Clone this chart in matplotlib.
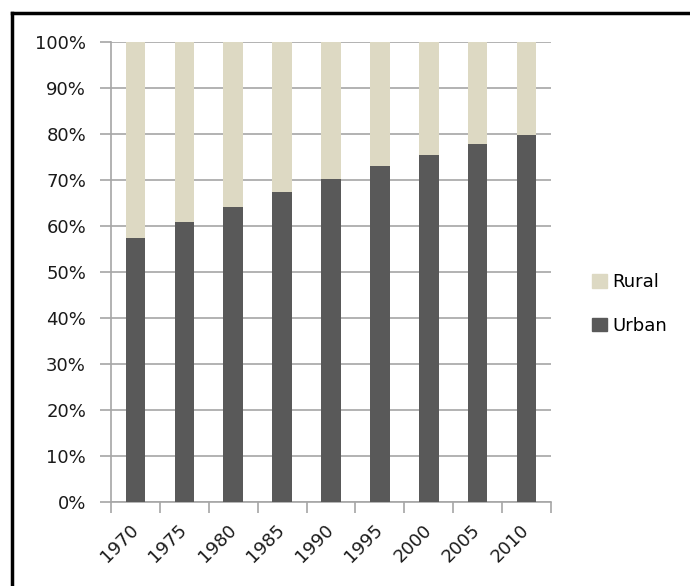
import matplotlib.pyplot as plt
from matplotlib.lines import Line2D
from matplotlib.patches import Patch
import numpy as np

years = ['1970', '1975', '1980', '1985', '1990', '1995', '2000', '2005', '2010']
urban = [57.3, 60.8, 64.2, 67.5, 70.3, 73.0, 75.5, 77.8, 79.7]
rural = [100 - u for u in urban]

urban_color = '#595959'
rural_color = '#DDD9C3'
grid_color = '#A6A6A6'
text_color = '#1a1a1a'

plt.rcParams['font.family'] = ['DejaVu Sans']

fig = plt.figure(figsize=(6.9, 5.86), dpi=100)
ax = fig.add_axes([0.1609, 0.1433, 0.6377, 0.785])

x = np.arange(len(years))
ax.bar(x, urban, width=0.4, color=urban_color, zorder=3)
ax.bar(x, rural, width=0.4, bottom=urban, color=rural_color, zorder=3)

ax.set_xlim(-0.5, len(years) - 0.5)
ax.set_ylim(0, 100)
ax.set_yticks(range(0, 101, 10))
ax.set_yticklabels([f'{v}%' for v in range(0, 101, 10)], fontsize=13, color=text_color)
ax.yaxis.grid(True, color=grid_color, linewidth=1.2, zorder=0)

# tick marks between categories, labels centred under bars
ax.set_xticks(np.arange(-0.5, len(years), 1.0))
ax.set_xticklabels([])
ax.set_xticks(x, minor=True)
ax.set_xticklabels(years, minor=True, rotation=45, ha='right', va='center',
                   rotation_mode='anchor', fontsize=13, color=text_color)
ax.tick_params(axis='x', which='major', length=8, color=grid_color, width=1.2)
ax.tick_params(axis='x', which='minor', length=0, pad=18)
ax.tick_params(axis='y', length=8, color=grid_color, width=1.2, pad=10)

for side in ['top', 'right']:
    ax.spines[side].set_visible(False)
for side in ['left', 'bottom']:
    ax.spines[side].set_color(grid_color)
    ax.spines[side].set_linewidth(1.2)

handles = [Patch(color=rural_color, label='Rural'), Patch(color=urban_color, label='Urban')]
fig.legend(handles=handles, loc='center left', bbox_to_anchor=(0.835, 0.481),
           frameon=False, fontsize=13, handlelength=0.8, handleheight=0.8,
           handletextpad=0.3, labelspacing=1.4)

# outer frame, top and left edges only
fig.add_artist(Line2D([0.018, 1.0], [0.978, 0.978], color='black', linewidth=2.5))
fig.add_artist(Line2D([0.018, 0.018], [0.0, 0.978], color='black', linewidth=2.5))

fig.savefig('out.png', dpi=100)
